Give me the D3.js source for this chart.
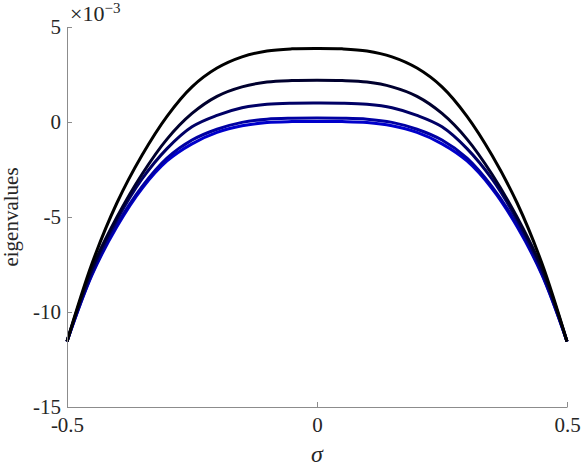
<!DOCTYPE html>
<html>
<head>
<meta charset="utf-8">
<script src="https://cdn.jsdelivr.net/npm/d3@7"></script>
<style>
  body { margin: 0; background: #fff; }
  text { font-family: "Liberation Serif", "DejaVu Serif", serif; fill: #262626; }
</style>
</head>
<body>
<div id="chart"></div>
<script>
const margin = { top : 27, bot : 60, left : 67, right : 14 }
const sizing = { width : 581, height : 467 }

// sigma grid and eigenvalue curves (values in 1e-3)
const sigma = [-0.5, -0.45, -0.4, -0.35, -0.3, -0.25, -0.2, -0.15, -0.1, -0.05, 0,
               0.05, 0.1, 0.15, 0.2, 0.25, 0.3, 0.35, 0.4, 0.45, 0.5]
const eig1 = [-11.55, -7.45, -4.25, -1.75, 0.3, 1.85, 2.84, 3.43, 3.74, 3.85, 3.87,
              3.85, 3.74, 3.43, 2.84, 1.85, 0.3, -1.75, -4.25, -7.45, -11.55]
const eig2 = [-11.55, -7.7, -5.0, -2.75, -0.9, 0.45, 1.35, 1.85, 2.1, 2.18, 2.2,
              2.18, 2.1, 1.85, 1.35, 0.45, -0.9, -2.75, -5.0, -7.7, -11.55]
const eig3 = [-11.55, -7.85, -5.15, -3.0, -1.4, -0.25, 0.35, 0.75, 0.93, 0.99, 1.0,
              0.99, 0.93, 0.75, 0.35, -0.25, -1.4, -3.0, -5.15, -7.85, -11.55]
const eig4 = [-11.55, -8.0, -5.4, -3.4, -1.9, -0.95, -0.38, -0.02, 0.15, 0.2, 0.21,
              0.2, 0.15, -0.02, -0.38, -0.95, -1.9, -3.4, -5.4, -8.0, -11.55]
const eig5 = [-11.55, -8.05, -5.5, -3.5, -2.05, -1.15, -0.55, -0.2, -0.03, 0.02, 0.03,
              0.02, -0.03, -0.2, -0.55, -1.15, -2.05, -3.5, -5.5, -8.05, -11.55]
const series = [eig1, eig2, eig3, eig4, eig5]
const colors = ["#000000", "#00002e", "#000066", "#0000a3", "#0000cc"]

const xTicks = [-0.5, 0, 0.5]
const yTicks = [5, 0, -5, -10, -15]

const svg = d3.select("#chart").append("svg")
    .attr("width", sizing.width)
    .attr("height", sizing.height)

const plotW = sizing.width - margin.left - margin.right
const plotH = sizing.height - margin.top - margin.bot

const x = d3.scaleLinear().domain([-0.5, 0.5]).range([0, plotW])
const y = d3.scaleLinear().domain([-15, 5]).range([plotH, 0])

const g = svg.append("g")
    .attr("transform", `translate(${margin.left},${margin.top})`)

const line = d3.line()
    .x((d, i) => x(sigma[i]))
    .y(d => y(d))
    .curve(d3.curveCatmullRom.alpha(0.5))

// blue first so the black curve ends up on top
g.selectAll("path.curve")
    .data(series.map((s, i) => ({ s, c: colors[i] })).reverse())
    .join("path")
    .attr("class", "curve")
    .attr("d", d => line(d.s))
    .attr("fill", "none")
    .attr("stroke", d => d.c)
    .attr("stroke-width", 3)
    .attr("stroke-linejoin", "round")

const xAxis = d3.axisBottom(x).tickValues(xTicks).tickSizeInner(-5).tickSizeOuter(0)
    .tickFormat(d => String(d))
const yAxis = d3.axisLeft(y).tickValues(yTicks).tickSizeInner(-5).tickSizeOuter(0)
    .tickFormat(d => String(d))

const xg = g.append("g").attr("transform", `translate(0,${plotH})`).call(xAxis)
const yg = g.append("g").call(yAxis)

for (const ax of [xg, yg]) {
    ax.select(".domain").attr("stroke", "#8c8c8c")
    ax.selectAll(".tick line").attr("stroke", "#8c8c8c")
    ax.selectAll(".tick text").attr("font-size", 21).attr("fill", "#262626")
        .style("font-family", "'Liberation Serif', serif")
}
xg.selectAll(".tick text").attr("y", 10)
yg.selectAll(".tick text").attr("x", -6)

// exponent label
const expo = svg.append("text")
    .attr("x", margin.left + 3)
    .attr("y", 21)
    .attr("font-size", 22)
expo.append("tspan").text("\u00d710")
expo.append("tspan").text("\u22123").attr("font-size", 15).attr("dy", -8)

svg.append("text")
    .attr("x", margin.left + plotW / 2)
    .attr("y", 462)
    .attr("text-anchor", "middle")
    .attr("font-size", 24)
    .attr("font-style", "italic")
    .text("\u03c3")

svg.append("text")
    .attr("transform", `translate(18,${margin.top + plotH / 2}) rotate(-90)`)
    .attr("text-anchor", "middle")
    .attr("font-size", 21)
    .text("eigenvalues")
</script>
</body>
</html>
